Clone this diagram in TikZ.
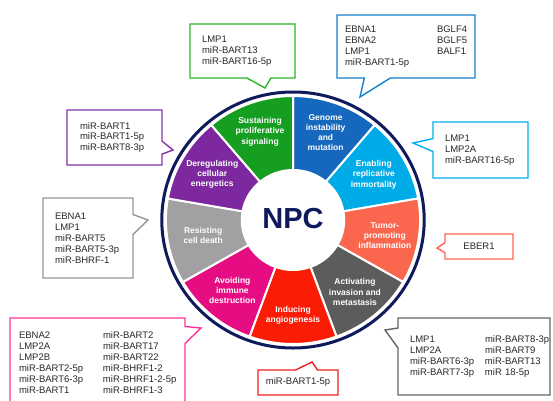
\documentclass[tikz,border=0pt]{standalone}
\usepackage{fontspec}
\setmainfont{Liberation Sans}
\usetikzlibrary{shapes.callouts}

% wheel colours
\definecolor{ringnavy}{RGB}{14,26,92}
\definecolor{hmgreen}{RGB}{22,158,32}
\definecolor{hmblue}{RGB}{22,104,190}
\definecolor{hmsky}{RGB}{0,172,232}
\definecolor{hmorange}{RGB}{250,102,78}
\definecolor{hmdark}{RGB}{92,92,92}
\definecolor{hmred}{RGB}{250,28,4}
\definecolor{hmpink}{RGB}{230,12,130}
\definecolor{hmgrey}{RGB}{162,160,162}
\definecolor{hmpurple}{RGB}{125,40,158}
% box outlines
\definecolor{bxgreen}{RGB}{40,182,40}
\definecolor{bxblue}{RGB}{20,130,205}
\definecolor{bxsky}{RGB}{0,178,242}
\definecolor{bxpurple}{RGB}{132,50,172}
\definecolor{bxgrey}{RGB}{150,150,150}
\definecolor{bxpink}{RGB}{255,50,150}
\definecolor{bxred}{RGB}{240,32,32}
\definecolor{bxorange}{RGB}{255,100,82}
\definecolor{bxdark}{RGB}{100,100,100}
\definecolor{boxtext}{RGB}{40,40,40}

\tikzset{
    hmlabel/.style={text=white, font=\fontsize{8.5}{10.3}\selectfont\bfseries, align=center, inner sep=0pt},
    genebox/.style={rectangle callout, draw=#1, line width=1.4pt, fill=white,
        text=boxtext, font=\fontsize{9.5}{10.9}\selectfont, align=left, inner ysep=0pt},
}

\begin{document}
\begin{tikzpicture}[x=1pt,y=1pt]
    \useasboundingbox[fill=white] (0,0) rectangle (553,400);

    % the wheel of hallmarks
    \begin{scope}[shift={(293,180)}, xscale=1.025]
        \foreach \s/\col in {50/hmblue,10/hmsky,-30/hmorange,-70/hmdark,-110/hmred,
                             -150/hmpink,170/hmgrey,130/hmpurple,90/hmgreen}
        {
            \filldraw[fill=\col, draw=white, line width=2pt]
                (\s:124) arc[start angle=\s, end angle=\s+40, radius=124]
                -- (\s+40:50) arc[start angle=\s+40, end angle=\s, radius=50] -- cycle;
        }
        \draw[ringnavy, line width=3pt] (0,0) circle[radius=128];

        \node[hmlabel] (sust) at (110:94) {Sustaining\\proliferative\\signaling};
        \node[hmlabel] (geno) at (70:93) {Genome\\instability\\and\\mutation};
        \node[hmlabel] (repl) at (30:91) {Enabling\\replicative\\immortality};
        \node[hmlabel] (infl) at (-10:91) {Tumor-\\promoting\\inflammation};
        \node[hmlabel] (meta) at (-50:94) {Activating\\invasion and\\metastasis};
        \node[hmlabel] (angi) at (-90:95) {Inducing\\angiogenesis};
        \node[hmlabel] (immu) at (-130:92) {Avoiding\\immune\\destruction};
        \node[hmlabel] (deat) at (190:89) {Resisting\\cell death};
        \node[hmlabel] (ener) at (150:91) {Deregulating\\cellular\\energetics};
        \node[text=ringnavy, font=\fontsize{29}{30}\selectfont\bfseries] (npc) at (0,1) {NPC};
    \end{scope}

    % EBV products for each hallmark
    \node[genebox=bxgreen, text width=81pt, inner xsep=12pt, minimum height=54pt,
          callout absolute pointer={(265,312)}, callout pointer width=24pt] (gsust) at (242.5,349)
        {LMP1\\miR-BART13\\miR-BART16-5p};
    \node[genebox=bxblue, text width=122pt, inner xsep=8pt, minimum height=63pt,
          callout absolute pointer={(360,303)}, callout pointer width=26pt] (ggeno) at (406,353.5)
        {\begin{tabular}{@{}p{92pt}@{}l@{}}
            EBNA1 & BGLF4\\ EBNA2 & BGLF5\\ LMP1 & BALF1\\ miR-BART1-5p &
         \end{tabular}};
    \node[genebox=bxsky, text width=71pt, inner xsep=12pt, minimum height=56pt,
          callout absolute pointer={(413,257)}, callout pointer width=13pt] (grepl) at (480.5,250)
        {LMP1\\LMP2A\\miR-BART16-5p};
    \node[genebox=bxpurple, text width=69pt, inner xsep=13pt, minimum height=55pt,
          callout absolute pointer={(173,250)}, callout pointer width=13pt] (gener) at (114.5,262.5)
        {miR-BART1\\miR-BART1-5p\\miR-BART8-3p};
    \node[genebox=bxgrey, text width=66pt, inner xsep=12pt, minimum height=80pt,
          callout absolute pointer={(148,180)}, callout pointer width=20pt] (gdeat) at (88,162)
        {EBNA1\\LMP1\\miR-BART5\\miR-BART5-3p\\miR-BHRF-1};
    \node[genebox=bxorange, text width=60pt, inner xsep=4pt, minimum height=25pt, align=center,
          callout absolute pointer={(437,152)}, callout pointer width=10pt] (ginfl) at (479,153.5)
        {EBER1};
    \node[genebox=bxred, text width=72pt, inner xsep=4pt, minimum height=25pt, align=center,
          callout absolute pointer={(312,38)}, callout pointer width=22pt] (gangi) at (298,17.5)
        {miR-BART1-5p};
    \node[genebox=bxpink, text width=157pt, inner xsep=9pt, minimum height=92pt,
          callout absolute pointer={(201,72)}, callout pointer width=17pt] (gimmu) at (97.5,36)
        {\begin{tabular}{@{}p{84pt}@{}l@{}}
            EBNA2 & miR-BART2\\ LMP2A & miR-BART17\\ LMP2B & miR-BART22\\
            miR-BART2-5p & miR-BHRF1-2\\ miR-BART6-3p & miR-BHRF1-2-5p\\ miR-BART1 & miR-BHRF1-3
         \end{tabular}};
    \node[genebox=bxdark, text width=128pt, inner xsep=12pt, minimum height=77pt,
          callout absolute pointer={(385,70)}, callout pointer width=20pt] (gmeta) at (474,43.5)
        {\begin{tabular}{@{}p{75pt}@{}l@{}}
            LMP1 & miR-BART8-3p\\ LMP2A & miR-BART9\\ miR-BART6-3p & miR-BART13\\ miR-BART7-3p & miR 18-5p
         \end{tabular}};
\end{tikzpicture}
\end{document}
